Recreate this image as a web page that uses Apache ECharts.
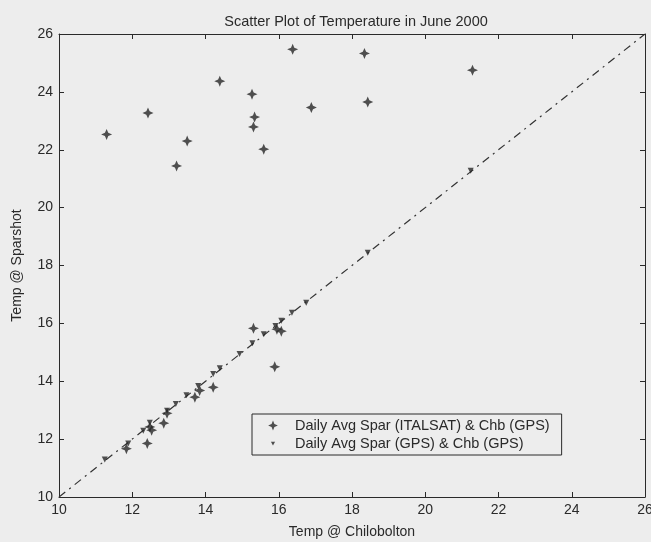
<!DOCTYPE html>
<html>
<head>
<meta charset="utf-8">
<script src="https://cdn.jsdelivr.net/npm/echarts@6/dist/echarts.min.js"></script>
<style>
html,body{margin:0;padding:0;background:#ededed;}
#chart{width:651px;height:542px;}
</style>
</head>
<body>
<div id="chart"></div>
<script>
// Daily Avg Spar (ITALSAT) & Chb (GPS): [Chilbolton temp, Sparsholt temp]
var italsatX = [11.30, 12.43, 13.50, 13.21, 14.39, 15.27, 15.34, 15.31, 15.59, 16.38, 16.89, 18.34, 18.43, 21.29,
                15.31, 15.89, 15.95, 16.07, 14.21, 13.71, 13.84, 12.95, 12.86, 12.48, 12.53, 12.41, 11.84];
var italsatY = [22.53, 23.27, 22.30, 21.44, 24.37, 23.92, 23.13, 22.79, 22.02, 25.47, 23.46, 25.33, 23.65, 24.75,
                15.83, 14.50, 15.80, 15.73, 13.79, 13.45, 13.68, 12.89, 12.55, 12.42, 12.31, 11.85, 11.67];
// Daily Avg Spar (GPS) & Chb (GPS)
var gpsX = [11.25, 11.89, 12.30, 12.48, 12.95, 13.19, 13.48, 13.80, 14.21, 14.39, 14.93, 15.28, 15.59, 15.91, 16.07, 16.36, 16.75, 18.43, 21.24];
var gpsY = [11.30, 11.85, 12.29, 12.57, 12.98, 13.21, 13.52, 13.84, 14.25, 14.45, 14.94, 15.31, 15.62, 15.91, 16.09, 16.37, 16.71, 18.44, 21.27];
// reference line y = x
var lineX = [10, 26];
var lineY = [10, 26];
var tickLabels = [10, 12, 14, 16, 18, 20, 22, 24, 26];

var titleText = 'Scatter Plot of Temperature in June 2000';
var xName = 'Temp @ Chilobolton';
var yName = 'Temp @ Sparshot';
var s1Name = 'Daily Avg Spar (ITALSAT) & Chb (GPS)';
var s2Name = 'Daily Avg Spar (GPS) & Chb (GPS)';

function zip(a, b) { return a.map(function (v, i) { return [v, b[i]]; }); }

var FONT = 'Liberation Sans, Arial, sans-serif';
var INK = '#2a2a2a';
var starPath = 'path://M0,-10 L3,-3 L10,0 L3,3 L0,10 L-3,3 L-10,0 L-3,-3 Z';
var triPath = 'path://M-5,-4 L5,-4 L0,5 Z';
var starLegend = 'path://M-10,-10 M10,10 M0,-7 L2,-2 L7,0 L2,2 L0,7 L-2,2 L-7,0 L-2,-2 Z';
var triLegend = 'path://M-10,-10 M10,10 M-3,-2.5 L3,-2.5 L0,3 Z';

function axisBase(show) {
  return {
    type: 'value', min: 10, max: 26, interval: 2,
    axisLine: { show: true, onZero: false, lineStyle: { color: INK, width: 1 } },
    axisTick: { show: true, inside: true, length: 5, lineStyle: { color: INK } },
    axisLabel: { show: show, color: INK, fontFamily: FONT, fontSize: 14,
      formatter: function (v) { return tickLabels.indexOf(v) >= 0 ? String(v) : ''; } },
    splitLine: { show: false }
  };
}

var chart = echarts.init(document.getElementById('chart'));
var xb = axisBase(true); xb.position = 'bottom'; xb.axisLabel.margin = 6;
xb.name = xName; xb.nameLocation = 'middle'; xb.nameGap = 28;
xb.nameTextStyle = { color: INK, fontFamily: FONT, fontSize: 14 };
var xt = axisBase(false); xt.position = 'top';
var yl = axisBase(true); yl.position = 'left'; yl.axisLabel.margin = 6;
yl.name = yName; yl.nameLocation = 'middle'; yl.nameGap = 35;
yl.nameTextStyle = { color: INK, fontFamily: FONT, fontSize: 14 };
var yr = axisBase(false); yr.position = 'right';

chart.setOption({
  backgroundColor: '#ededed',
  animation: false,
  title: { text: titleText, left: 351, textAlign: 'center', top: 9,
    textStyle: { color: INK, fontFamily: FONT, fontSize: 14.5, fontWeight: 'normal' } },
  grid: { left: 59, right: 6, top: 34, bottom: 45, containLabel: false, outerBoundsMode: 'none' },
  xAxis: [xb, xt],
  yAxis: [yl, yr],
  legend: {
    data: [{ name: s1Name, icon: starLegend }, { name: s2Name, icon: triLegend }],
    orient: 'vertical', left: 252, top: 414,
    padding: [4, 12, 4, 14], itemWidth: 14, itemHeight: 14, itemGap: 3,
    borderColor: INK, borderWidth: 1, backgroundColor: '#ededed',
    textStyle: { color: INK, fontFamily: FONT, fontSize: 14.5, padding: [0, 0, 0, 10] }
  },
  series: [
    { type: 'line', data: zip(lineX, lineY), symbol: 'none', silent: true,
      lineStyle: { color: '#333', width: 1.2, type: [8, 5, 2, 5] }, z: 1 },
    { name: s1Name, type: 'scatter', data: zip(italsatX, italsatY),
      symbol: starPath, symbolSize: 11, itemStyle: { color: '#262626' }, z: 3 },
    { name: s2Name, type: 'scatter', data: zip(gpsX, gpsY),
      symbol: triPath, symbolSize: 6, itemStyle: { color: '#262626' }, z: 2 }
  ]
});
</script>
</body>
</html>
